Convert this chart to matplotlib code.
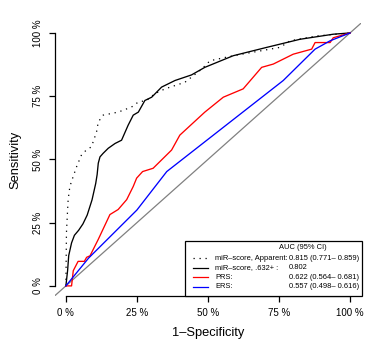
import matplotlib
matplotlib.use("Agg")
import matplotlib.pyplot as plt
from matplotlib.lines import Line2D
from matplotlib.patches import Rectangle

plt.rcParams['font.family'] = ['Liberation Sans', 'DejaVu Sans']

# ---- data ----
apparent_fpr = [0, 0.002, 0.006, 0.008, 0.014, 0.025, 0.038, 0.055, 0.07, 0.09, 0.108, 0.114,
                0.131, 0.184, 0.231, 0.255, 0.284, 0.313, 0.349, 0.419, 0.478, 0.507, 0.589,
                0.754, 0.789, 0.883, 1.0]
apparent_tpr = [0, 0.21, 0.30, 0.341, 0.393, 0.43, 0.472, 0.518, 0.535, 0.55, 0.609, 0.648,
                0.675, 0.687, 0.707, 0.727, 0.733, 0.76, 0.779, 0.805, 0.857, 0.89, 0.91,
                0.943, 0.969, 0.988, 1.0]

boot_fpr = [0, 0.006, 0.01, 0.02, 0.03, 0.045, 0.06, 0.075, 0.092, 0.105, 0.11, 0.114, 0.12,
            0.131, 0.149, 0.173, 0.196, 0.219, 0.237, 0.255, 0.278, 0.302, 0.337, 0.384,
            0.442, 0.489, 0.589, 0.707, 0.824, 0.941, 1.0]
boot_tpr = [0, 0.06, 0.12, 0.17, 0.2, 0.22, 0.245, 0.28, 0.34, 0.405, 0.44, 0.485, 0.51,
            0.524, 0.544, 0.563, 0.576, 0.635, 0.675, 0.687, 0.733, 0.746, 0.786, 0.812,
            0.834, 0.864, 0.91, 0.943, 0.975, 0.995, 1.0]

prs_fpr = [0, 0.02, 0.026, 0.043, 0.065, 0.073, 0.085, 0.114, 0.155, 0.184, 0.214, 0.237,
           0.249, 0.27, 0.307, 0.372, 0.401, 0.489, 0.554, 0.624, 0.689, 0.73, 0.80, 0.865,
           0.877, 0.93, 0.941, 1.0]
prs_tpr = [0, 0, 0.06, 0.097, 0.097, 0.113, 0.119, 0.184, 0.282, 0.302, 0.341, 0.393,
           0.426, 0.452, 0.465, 0.537, 0.596, 0.687, 0.746, 0.779, 0.864, 0.877, 0.916, 0.936,
           0.962, 0.962, 0.981, 1.0]

ers_fpr = [0, 0.08, 0.25, 0.355, 0.765, 0.877, 0.93, 1.0]
ers_tpr = [0, 0.11, 0.30, 0.452, 0.812, 0.936, 0.969, 1.0]

tick_vals = [0, 0.25, 0.5, 0.75, 1.0]
tick_labels = ["0 %", "25 %", "50 %", "75 %", "100 %"]

legend_names = ["miR\u2013score, Apparent:", "miR\u2013score, .632+ :", "PRS:", "ERS:"]
legend_values = ["0.815 (0.771\u2013 0.859)", "0.802", "0.622 (0.564\u2013 0.681)",
                 "0.557 (0.498\u2013 0.616)"]
legend_title = "AUC (95% CI)"

# ---- figure ----
fig = plt.figure(figsize=(3.77, 3.48), dpi=100)
ax = fig.add_axes([0.1446, 0.1494, 0.814, 0.785])
ax.set_xlim(-0.04, 1.04)
ax.set_ylim(-0.04, 1.04)

ax.axline((0, 0), slope=1, color='#808080', lw=0.9)

dotted = (0, (1, 3.8))
ax.plot(apparent_fpr, apparent_tpr, color='black', lw=0.9, linestyle=dotted)
ax.plot(boot_fpr, boot_tpr, color='black', lw=0.95)
ax.plot(prs_fpr, prs_tpr, color='#FF0000', lw=0.95)
ax.plot(ers_fpr, ers_tpr, color='#0000FF', lw=0.95)

for s in ['top', 'right']:
    ax.spines[s].set_visible(False)
ax.spines['left'].set_bounds(0, 1)
ax.spines['bottom'].set_bounds(0, 1)
for s in ['left', 'bottom']:
    ax.spines[s].set_linewidth(0.9)

ax.set_xticks(tick_vals)
ax.set_xticklabels(tick_labels)
ax.set_yticks(tick_vals)
ax.set_yticklabels(tick_labels, rotation=90, va='center')
ax.tick_params(axis='both', direction='out', length=4.3, width=0.9, labelsize=7.0, pad=4.3)

ax.set_xlabel("1\u2013Specificity", fontsize=9.3)
ax.set_ylabel("Sensitivity", fontsize=9.3)
ax.xaxis.set_label_coords(0.5, -0.135)
ax.xaxis.label.set_verticalalignment('center')
ax.yaxis.set_label_coords(-0.129, 0.5)
ax.yaxis.label.set_verticalalignment('center')

# ---- legend (manual, R style) ----
tr = ax.transAxes
ax.add_patch(Rectangle((0.425, 0.0), 0.577, 0.201, transform=tr, fill=False,
                       edgecolor='black', lw=0.9, clip_on=False, zorder=5))
ax.add_patch(Rectangle((0.425, 0.0), 0.577, 0.201, transform=tr, facecolor='white',
                       edgecolor='none', clip_on=False, zorder=4))
ax.text(0.81, 0.177, legend_title, transform=tr, fontsize=5.4, ha='center', va='center', zorder=6)
row_y = [0.138, 0.104, 0.068, 0.033]
styles = [('black', dotted), ('black', '-'), ('#FF0000', '-'), ('#0000FF', '-')]
for yy, name, val, (c, ls) in zip(row_y, legend_names, legend_values, styles):
    ax.add_line(Line2D([0.451, 0.500], [yy, yy], transform=tr, color=c, lw=0.9,
                       linestyle=ls, clip_on=False, zorder=6))
    ax.text(0.523, yy, name, transform=tr, fontsize=5.4, ha='left', va='center', zorder=6)
    ax.text(0.764, yy, val, transform=tr, fontsize=5.4, ha='left', va='center', zorder=6)

fig.savefig("out.png", dpi=100)
